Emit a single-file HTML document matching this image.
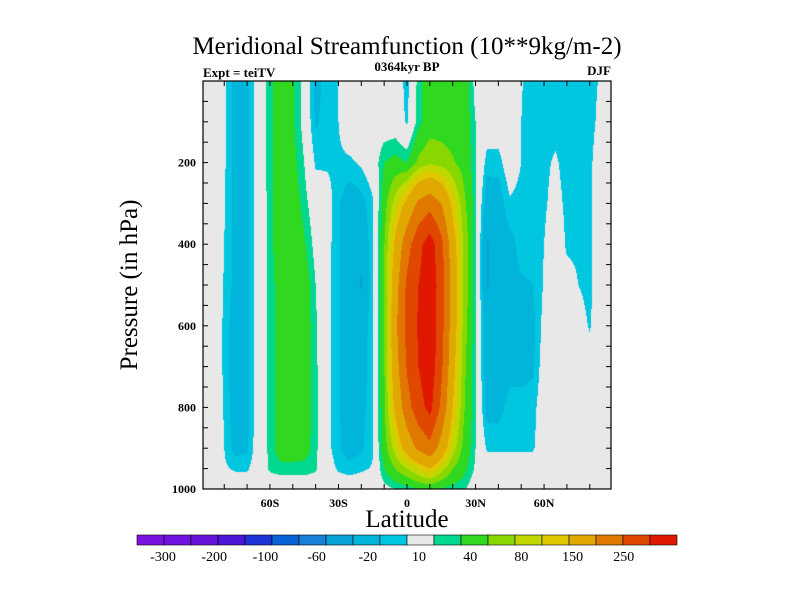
<!DOCTYPE html>
<html><head><meta charset="utf-8"><style>
body{margin:0;background:#fff;width:800px;height:600px;overflow:hidden}
svg text{font-family:"Liberation Serif",serif}
</style></head><body>
<svg id="chart" width="800" height="600" xmlns="http://www.w3.org/2000/svg">
<text x="407" y="54" font-size="25" text-anchor="middle">Meridional Streamfunction (10**9kg/m-2)</text>
<text x="203" y="77" font-size="13" font-weight="bold">Expt = teiTV</text>
<text x="407" y="71" font-size="13" font-weight="bold" text-anchor="middle">0364kyr BP</text>
<text x="611" y="75" font-size="13" font-weight="bold" text-anchor="end">DJF</text>
<text transform="translate(137,285) rotate(-90)" font-size="25" text-anchor="middle">Pressure (in hPa)</text>
<text x="407" y="527" font-size="25" text-anchor="middle">Latitude</text>
<foreignObject x="203" y="81" width="408" height="408"><canvas id="cv" width="408" height="408" xmlns="http://www.w3.org/1999/xhtml" style="display:block"></canvas></foreignObject>
<rect x="203" y="81" width="408" height="408" fill="none" stroke="#000" stroke-width="1.2"/>
<g id="axes"></g>
<g id="cbar"></g>
</svg>
<script>
const lats=[-90,-85,-80,-75,-70,-65,-60,-55,-50,-45,-40,-35,-30,-25,-20,-15,-10,-5,0,5,10,15,20,25,30,35,40,45,50,55,60,65,70,75,80,85,90];
const pres=[0,100,200,300,400,500,600,700,800,900,950,1000];
const values=[
[0,0,0,0,0,0,0,0,0,0,0,0],
[0,0,0,0,0,0,0,0,0,0,0,0],
[-8,-8,-8,-9,-10,-11,-12,-12,-11,-10,-8,0],
[-25,-25,-25,-25,-25,-25,-30,-30,-30,-25,-12,0],
[-25,-25,-25,-25,-25,-25,-25,-25,-25,-22,-12,0],
[0,0,0,0,0,0,0,0,0,0,0,0],
[15,15,15,14,14,13,13,13,13,13,12,0],
[35,35,35,35,35,30,30,30,30,30,15,0],
[22,22,25,30,35,35,35,35,35,30,15,0],
[5,5,10,15,22,30,30,30,30,28,15,0],
[-25,-22,-12,0,5,10,12,13,13,13,12,0],
[-15,-15,-12,-3,-5,-5,-5,-5,-5,-5,-3,0],
[-10,-10,-12,-18,-18,-18,-18,-18,-18,-18,-12,0],
[0,0,-12,-30,-30,-30,-30,-30,-30,-28,-15,0],
[0,0,-8,-25,-35,-42,-30,-28,-25,-22,-12,0],
[0,0,0,-12,-12,-12,-12,-12,-12,-11,-9,0],
[0,0,20,30,38,38,38,38,35,30,20,5],
[0,0,25,70,110,130,140,130,110,70,40,10],
[-15,-12,20,110,180,210,215,205,180,120,60,12],
[15,15,45,160,235,250,255,250,230,160,80,20],
[30,30,55,180,275,285,290,285,265,185,100,22],
[30,30,50,150,215,225,220,210,190,130,70,18],
[30,30,42,90,120,130,125,115,100,70,40,14],
[30,30,32,45,55,55,50,45,42,32,24,12],
[5,10,12,12,12,12,10,10,10,10,8,0],
[0,0,-15,-30,-42,-42,-30,-30,-25,-12,0,0],
[0,0,-15,-28,-28,-28,-28,-28,-25,-12,0,0],
[0,0,0,-12,-25,-25,-25,-25,-15,-12,0,0],
[-9,-10,-10,-15,-15,-22,-25,-25,-15,-12,0,0],
[-16,-16,-15,-15,-15,-20,-25,-22,-15,-12,0,0],
[-15,-15,-13,-12,-10,-9,-5,-2,0,0,0,0],
[-15,-15,-8,-5,0,0,0,0,0,0,0,0],
[-16,-20,-15,-13,-12,-5,0,0,0,0,0,0],
[-20,-20,-15,-13,-12,-10,-5,0,0,0,0,0],
[-15,-15,-13,-13,-13,-13,-11,-5,0,0,0,0],
[-8,-5,0,0,0,0,0,0,0,0,0,0],
[0,0,0,0,0,0,0,0,0,0,0,0]];
const levels=[-300,-250,-200,-150,-100,-80,-60,-40,-20,-10,10,20,40,60,80,100,150,200,250];
const colors=["#7a12e0","#7012e0","#6614da","#4c18d8","#1c34d8","#0a62d8","#1882d8","#0aa0d8","#00b4da","#00c6e0","#e8e8e8","#00d890","#30d820","#88d800","#c0d800","#e0c800","#e0a800","#e07800","#e04800","#e01800"];
const labelLevels=["-300","-200","-100","-60","-20","10","40","80","150","250"];
const X0=203,Y0=81,W=408,H=408,LATMIN=-89.3,LATMAX=89.3,PMAX=1000;
const xScale=lat=>X0+(lat-LATMIN)/(LATMAX-LATMIN)*W;
const yScale=p=>Y0+p/PMAX*H;
function hex(c){return [parseInt(c.substr(1,2),16),parseInt(c.substr(3,2),16),parseInt(c.substr(5,2),16)];}
const rgb=colors.map(hex);
function interp(lat,p){
 let i=0;while(i<lats.length-2&&lats[i+1]<lat)i++;
 let j=0;while(j<pres.length-2&&pres[j+1]<p)j++;
 const tx=Math.max(0,Math.min(1,(lat-lats[i])/(lats[i+1]-lats[i])));
 const ty=Math.max(0,Math.min(1,(p-pres[j])/(pres[j+1]-pres[j])));
 const a=values[i][j],b=values[i+1][j],c=values[i][j+1],d=values[i+1][j+1];
 return a*(1-tx)*(1-ty)+b*tx*(1-ty)+c*(1-tx)*ty+d*tx*ty;
}
const cv=document.getElementById('cv'),ctx=cv.getContext('2d');
const img=ctx.createImageData(W,H);
for(let py=0;py<H;py++){const p=(py+0.5)/H*PMAX;
 for(let px=0;px<W;px++){const lat=LATMIN+(px+0.5)/W*(LATMAX-LATMIN);
  const v=interp(lat,p);let k=0;while(k<levels.length&&v>=levels[k])k++;
  const c=rgb[k],o=(py*W+px)*4;img.data[o]=c[0];img.data[o+1]=c[1];img.data[o+2]=c[2];img.data[o+3]=255;}}
ctx.putImageData(img,0,0);
const NS="http://www.w3.org/2000/svg";
const axes=document.getElementById('axes');
function mk(tag,attrs,parent){const e=document.createElementNS(NS,tag);for(const k in attrs)e.setAttribute(k,attrs[k]);parent.appendChild(e);return e;}
const xTicks=[-80,-70,-60,-50,-40,-30,-20,-10,0,10,20,30,40,50,60,70,80];
const xLabels={"-60":"60S","-30":"30S","0":"0","30":"30N","60":"60N"};
xTicks.forEach(t=>{const x=xScale(t);
 let l=mk('line',{x1:x,x2:x,y1:489,y2:484,stroke:'#000'},axes);
 
 
 let l2=mk('line',{x1:x,x2:x,y1:81,y2:86,stroke:'#000'},axes);
 
 
 if(xLabels[t]!==undefined){const tx=mk('text',{x:x,y:507,'font-size':12,'font-weight':'bold','text-anchor':'middle'},axes);tx.textContent=xLabels[t];
 
 }
});
const yTicks=[50,100,150,200,250,300,350,400,450,500,550,600,650,700,750,800,850,900,950];
const yLabels=[200,400,600,800,1000];
yTicks.concat([1000]).forEach(t=>{const y=yScale(t);
 let l=mk('line',{x1:203,x2:208,y1:y,y2:y,stroke:'#000'},axes);
 
 
 let l2=mk('line',{x1:611,x2:606,y1:y,y2:y,stroke:'#000'},axes);
 
 
 if(yLabels.includes(t)){const tx=mk('text',{x:196,y:y+4,'font-size':12,'font-weight':'bold','text-anchor':'end'},axes);tx.textContent=String(t);
 
 }
});
const cb=document.getElementById('cbar');
const CBX=137,CBW=27,CBY=535,CBH=10;
colors.forEach((c,i)=>{const r=mk('rect',{x:CBX+i*CBW,y:CBY,width:CBW,height:CBH,fill:c,stroke:'#000','stroke-width':0.6},cb);
 
 });
labelLevels.forEach((s,i)=>{const x=163+i*51.2;const t=mk('text',{x:x,y:561,'font-size':14,'text-anchor':'middle'},cb);t.textContent=s;
 
 });
</script>
</body></html>
